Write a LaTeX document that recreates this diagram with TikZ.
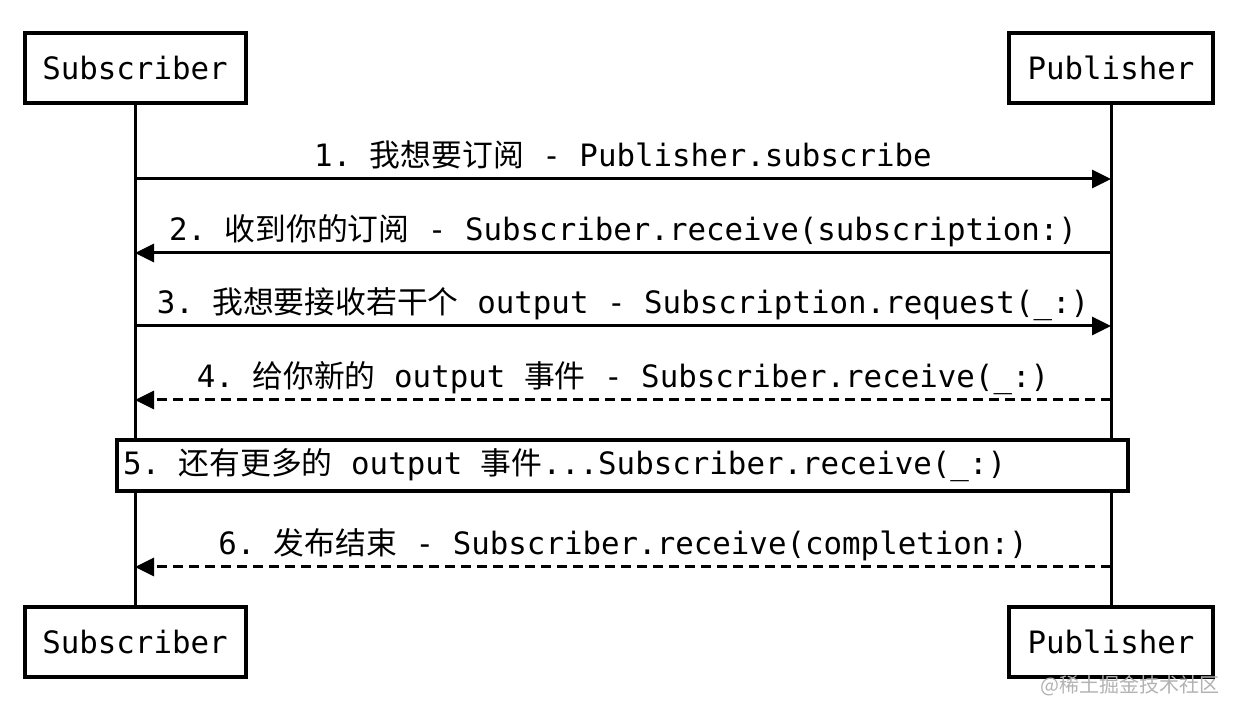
\documentclass[tikz,border=0pt]{standalone}
\usepackage{fontspec}
\setmainfont{DejaVu Sans Mono}
\newfontfamily\zh{Noto Sans CJK SC}
\usetikzlibrary{positioning,arrows.meta}
\frenchspacing
\tikzstyle{actor}=[draw, fill=white, line width=2pt, minimum height=35pt, font=\fontsize{15.4pt}{18pt}\selectfont]
\tikzstyle{msg}=[anchor=base, yshift=6pt, inner sep=0pt, font=\fontsize{15.4pt}{18pt}\selectfont]
\tikzstyle{call}=[->, line width=1.5pt]
\tikzstyle{reply}=[->, line width=1.5pt, dash pattern=on 5pt off 3pt]

\begin{document}
\begin{tikzpicture}[node distance=488pt, >={Triangle[length=9.5pt,width=9pt]}]
\useasboundingbox (0,0) rectangle (620pt,357.5pt);

\node[actor, minimum width=110.5pt] at (67.5pt,323.5pt) (sub) {Subscriber};
\node[actor, minimum width=102pt, right of = sub] (pub) {Publisher};
\node[actor, minimum width=110.5pt, below of = sub, node distance = 287pt] (subb) {Subscriber};
\node[actor, minimum width=102pt, below of = pub, node distance = 287pt] (pubb) {Publisher};

% lifelines
\draw[line width=1.5pt] (sub) -- (subb);
\draw[line width=1.5pt] (pub) -- (pubb);

\coordinate (s1) at (sub |- 0,268pt);   \coordinate (p1) at (pub |- 0,268pt);
\coordinate (s2) at (sub |- 0,231pt);   \coordinate (p2) at (pub |- 0,231pt);
\coordinate (s3) at (sub |- 0,194.5pt); \coordinate (p3) at (pub |- 0,194.5pt);
\coordinate (s4) at (sub |- 0,157.5pt); \coordinate (p4) at (pub |- 0,157.5pt);
\coordinate (s6) at (sub |- 0,74pt);    \coordinate (p6) at (pub |- 0,74pt);

\draw[call] (s1) -- node[msg] {1. {\zh 我想要订阅} - Publisher.subscribe} (p1);
\draw[call] (p2) -- node[msg] {2. {\zh 收到你的订阅} - Subscriber.receive(subscription:)} (s2);
\draw[call] (s3) -- node[msg] {3. {\zh 我想要接收若干个} output - Subscription.request(\_:)} (p3);
\draw[reply] (p4) -- node[msg] {4. {\zh 给你新的} output {\zh 事件} - Subscriber.receive(\_:)} (s4);

\node[draw, fill=white, line width=2pt, minimum width=505.5pt, minimum height=25.5pt, inner xsep=3pt,
      font=\fontsize{15.4pt}{18pt}\selectfont] at (311.25pt,124.75pt) (more)
      {\makebox[499.5pt][l]{5. {\zh 还有更多的} output {\zh 事件}...Subscriber.receive(\_:)}};

\draw[reply] (p6) -- node[msg] {6. {\zh 发布结束} - Subscriber.receive(completion:)} (s6);

\node[anchor=east, inner sep=0pt, text=black!30, font=\zh\fontsize{10pt}{12pt}\selectfont] at (610pt,14.5pt) (mark) {@稀土掘金技术社区};
\end{tikzpicture}
\end{document}
